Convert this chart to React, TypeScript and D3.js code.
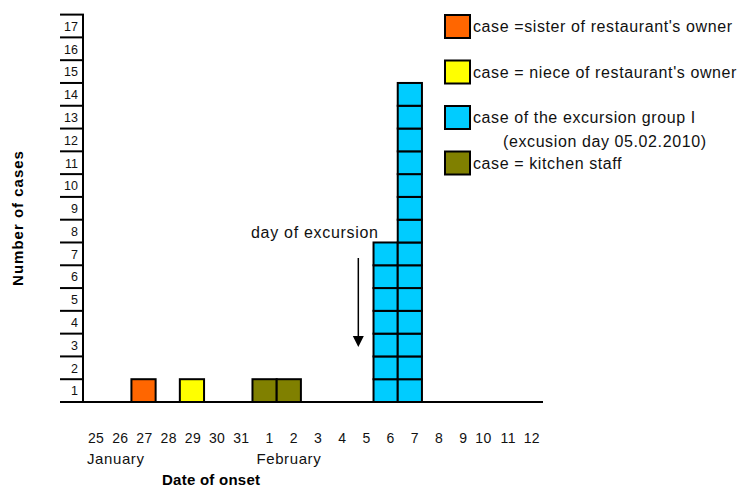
import React from "react";
import * as d3 from "d3";

// ---- data ----
const days = ["25", "26", "27", "28", "29", "30", "31", "1", "2", "3", "4", "5", "6", "7", "8", "9", "10", "11", "12"];
const monthLabels = ["January", "February"];
const monthFirstDays = ["25", "1"];
const sisterCases = [0, 0, 1, 0, 0, 0, 0, 0, 0, 0, 0, 0, 0, 0, 0, 0, 0, 0, 0];
const nieceCases = [0, 0, 0, 0, 1, 0, 0, 0, 0, 0, 0, 0, 0, 0, 0, 0, 0, 0, 0];
const excursionCases = [0, 0, 0, 0, 0, 0, 0, 0, 0, 0, 0, 0, 7, 14, 0, 0, 0, 0, 0];
const kitchenCases = [0, 0, 0, 0, 0, 0, 0, 1, 1, 0, 0, 0, 0, 0, 0, 0, 0, 0, 0];
const seriesKeys = ["sister", "niece", "excursion", "kitchen"];
const seriesLegend = [
  ["case =sister of restaurant's owner"],
  ["case = niece of restaurant's owner"],
  ["case of the excursion group I", "(excusion day 05.02.2010)"],
  ["case = kitchen staff"],
];
const seriesColors = ["#FF6600", "#FFFF00", "#00CCFF", "#808000"];
const yTickLabels = [1, 2, 3, 4, 5, 6, 7, 8, 9, 10, 11, 12, 13, 14, 15, 16, 17];
const yMax = 17;
const annotationText = "day of excursion";
const annotationDay = "5";
const xTitle = "Date of onset";
const yTitle = "Number of cases";

const W = 744;
const H = 489;
const FONT = "'Liberation Sans', Arial, sans-serif";

export default function App() {
  const table = days.map((d, i) => ({
    day: d,
    sister: sisterCases[i],
    niece: nieceCases[i],
    excursion: excursionCases[i],
    kitchen: kitchenCases[i],
  }));
  const stacked = d3.stack<any>().keys(seriesKeys)(table);

  const x = d3.scaleBand<string>().domain(days).range([83, 543]).padding(0);
  const y = d3.scaleLinear().domain([0, yMax]).range([402, 14.6]);
  const bw = x.bandwidth();

  const cells: JSX.Element[] = [];
  stacked.forEach((s, si) => {
    s.forEach((seg, di) => {
      const y0 = seg[0];
      const y1 = seg[1];
      for (let k = y0; k < y1; k++) {
        cells.push(
          <rect
            key={`${si}-${di}-${k}`}
            x={x(days[di])!}
            y={y(k + 1)}
            width={bw}
            height={y(k) - y(k + 1)}
            fill={seriesColors[si]}
            stroke="#000"
            strokeWidth={2}
          />
        );
      }
    });
  });

  const boundaries = d3.range(0, yMax + 1);
  const arrowX = x(annotationDay)! + 9;

  const legendTop = (i: number) => 15 + i * 45.5;

  return (
    <svg width={W} height={H} style={{ position: "absolute", left: 0, top: 0, background: "#fff" }} fontFamily={FONT}>
      <rect x={0} y={0} width={W} height={H} fill="#fff" />
      {/* y tick grid lines (label cells) */}
      {boundaries.map((b) => (
        <line key={b} x1={60} x2={84} y1={y(b)} y2={y(b)} stroke="#000" strokeWidth={2} />
      ))}
      {yTickLabels.map((t) => (
        <text key={t} x={78} y={y(t - 0.5) + 4.8} fontSize={12.5} textAnchor="end" fill="#111">
          {t}
        </text>
      ))}
      {/* bars */}
      {cells}
      {/* axes */}
      <line x1={83} x2={83} y1={y(yMax)} y2={y(0)} stroke="#000" strokeWidth={2} />
      <line x1={60} x2={543} y1={y(0)} y2={y(0)} stroke="#000" strokeWidth={2} />
      {/* x tick labels */}
      {days.map((d) => (
        <text key={d} x={x(d)! + bw - 3} y={443} fontSize={14} letterSpacing={0.35} textAnchor="end" fill="#111">
          {d}
        </text>
      ))}
      {monthLabels.map((m, i) => (
        <text key={m} x={x(monthFirstDays[i])! + 4} y={464} fontSize={15} letterSpacing={0.6} fill="#111">
          {m}
        </text>
      ))}
      <text x={162} y={485} fontSize={15} fontWeight="bold" letterSpacing={0.25} fill="#000">
        {xTitle}
      </text>
      <text
        transform={`translate(23,${218}) rotate(-90)`}
        textAnchor="middle"
        fontSize={15}
        fontWeight="bold"
        letterSpacing={1.0}
        fill="#000"
      >
        {yTitle}
      </text>
      {/* annotation */}
      <text x={251} y={238} fontSize={16} letterSpacing={0.7} fill="#111">
        {annotationText}
      </text>
      <line x1={arrowX} x2={arrowX} y1={258} y2={337} stroke="#000" strokeWidth={1.5} />
      <path d={`M${arrowX - 5.5},336 L${arrowX + 5.5},336 L${arrowX},347 Z`} fill="#000" />
      {/* legend */}
      {seriesKeys.map((k, i) => (
        <g key={k}>
          <rect x={445} y={legendTop(i)} width={25} height={23} fill={seriesColors[i]} stroke="#000" strokeWidth={2} />
          {seriesLegend[i].map((line, li) => (
            <text
              key={li}
              x={li === 0 ? 473 : 503}
              y={legendTop(i) + 17 + li * 24}
              fontSize={16}
              letterSpacing={0.6}
              fill="#111"
            >
              {line}
            </text>
          ))}
        </g>
      ))}
    </svg>
  );
}
